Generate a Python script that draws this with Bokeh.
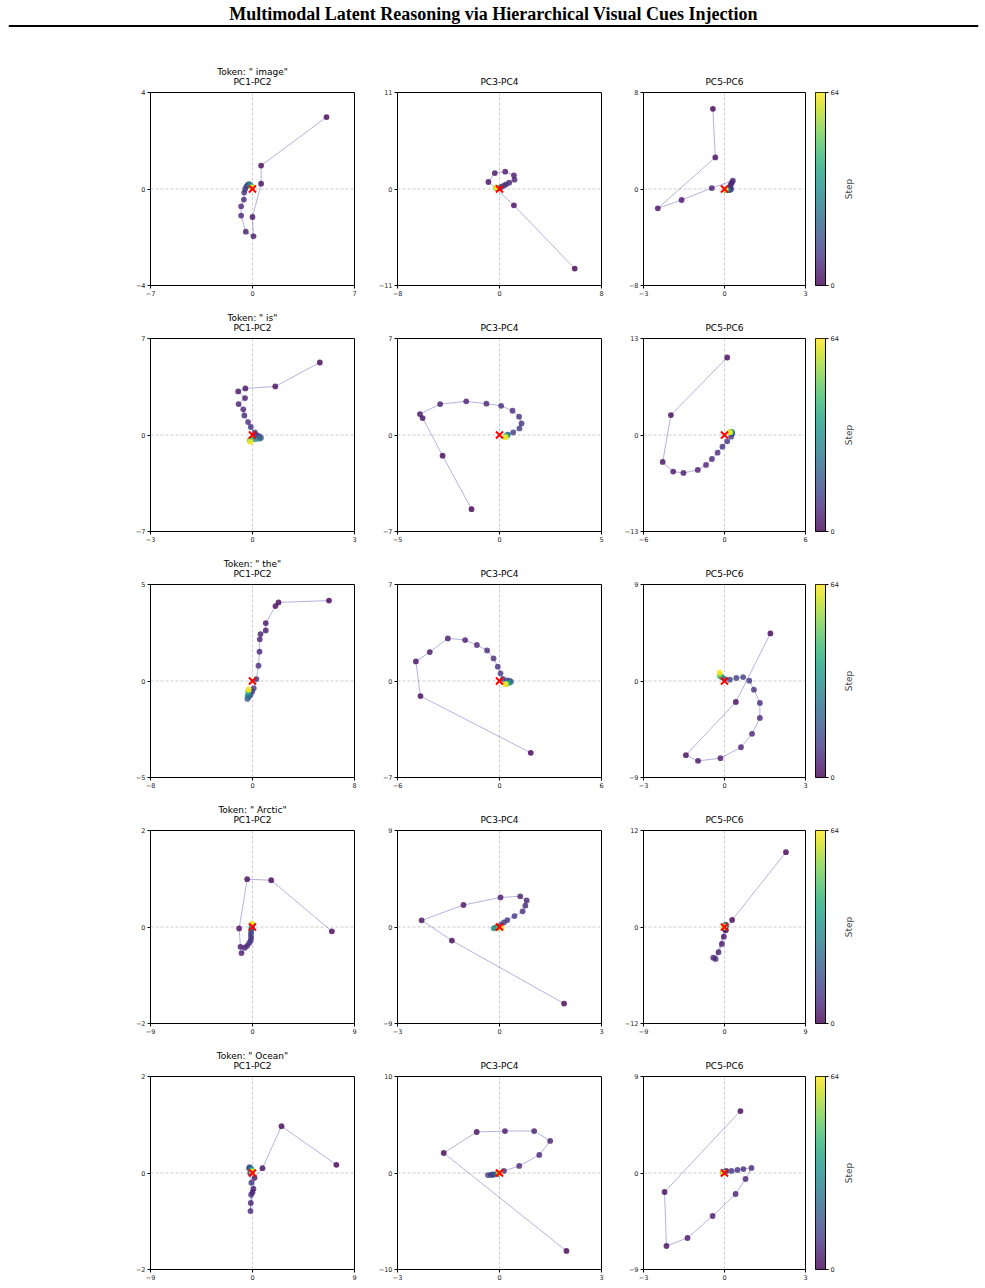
import math
import numpy as np
from bokeh.plotting import figure
from bokeh.layouts import column, row
from bokeh.models import (Range1d, Span, FixedTicker, Title, Label, LinearColorMapper,
                          ColumnDataSource, CustomJSTickFormatter)
from bokeh.palettes import Viridis256
from bokeh.transform import linear_cmap
from bokeh.embed import file_html
from bokeh.resources import INLINE

# ---------------------------------------------------------------- data
main_title = "Multimodal Latent Reasoning via Hierarchical Visual Cues Injection"
tokens = [' image', ' is', ' the', ' Arctic', ' Ocean']
planes = ["PC1-PC2", "PC3-PC4", "PC5-PC6"]
max_step = 64
origin_x = [0.0]
origin_y = [0.0]

# " image"
image_steps = [0, 1, 2, 3, 4, 5, 6, 7, 8, 9, 10, 11, 14, 18, 24, 32, 40, 48, 56, 64]
image_pc12_x = [5.08, 0.59, 0.59, 0.0, 0.07, -0.46, -0.78, -0.78, -0.59, -0.57, -0.5, -0.42, -0.33, -0.25, -0.18, -0.12, -0.08, -0.05, -0.03, -0.02]
image_pc12_y = [2.98, 0.97, 0.22, -1.16, -1.96, -1.77, -1.1, -0.72, -0.44, -0.15, 0.0, 0.1, 0.17, 0.2, 0.18, 0.14, 0.1, 0.08, 0.06, 0.05]
image_pc34_x = [5.9, 1.13, -0.87, -0.37, 0.45, 1.13, 1.18, 0.76, 0.52, 0.34, 0.13, 0.0, -0.1, -0.18, -0.22, -0.25, -0.26, -0.26, -0.26, -0.26]
image_pc34_y = [-9.07, -1.86, 0.8, 1.82, 1.97, 1.56, 1.06, 0.72, 0.53, 0.38, 0.23, 0.12, 0.1, 0.1, 0.12, 0.13, 0.14, 0.15, 0.15, 0.15]
image_pc56_x = [-0.43, -0.34, -2.47, -1.59, -0.47, 0.31, 0.27, 0.23, 0.21, 0.22, 0.24, 0.22, 0.18, 0.14, 0.1, 0.07, 0.05, 0.04, 0.04, 0.03]
image_pc56_y = [6.65, 2.62, -1.6, -0.91, 0.08, 0.69, 0.52, 0.36, 0.22, 0.1, 0.0, -0.05, -0.08, -0.1, -0.1, -0.08, -0.07, -0.06, -0.05, -0.05]
image_limits = [(7, 4), (8, 11), (3, 8)]

# " is"
is_steps = [0, 1, 2, 3, 4, 5, 6, 7, 8, 9, 10, 11, 12, 16, 22, 30, 38, 46, 54, 64]
is_pc12_x = [1.98, 0.67, -0.21, -0.42, -0.22, -0.41, -0.27, -0.24, -0.13, -0.05, 0.07, 0.12, 0.2, 0.25, 0.2, 0.08, -0.05, -0.08, -0.07, -0.06]
is_pc12_y = [5.26, 3.52, 3.38, 3.16, 2.68, 2.24, 1.86, 1.42, 0.94, 0.58, 0.19, 0.0, -0.08, -0.2, -0.27, -0.3, -0.3, -0.38, -0.45, -0.5]
is_pc34_x = [-1.37, -2.79, -3.77, -3.9, -2.91, -1.63, -0.64, 0.08, 0.64, 0.96, 1.08, 0.98, 0.67, 0.4, 0.38, 0.35, 0.33, 0.31, 0.3, 0.29]
is_pc34_y = [-5.38, -1.5, 1.23, 1.52, 2.24, 2.44, 2.27, 2.12, 1.76, 1.33, 0.84, 0.48, 0.19, 0.02, -0.02, -0.05, -0.08, -0.11, -0.14, -0.17]
is_pc56_x = [0.2, -3.97, -4.58, -3.8, -3.04, -1.98, -1.37, -0.93, -0.51, -0.15, 0.2, 0.49, 0.55, 0.57, 0.55, 0.5, 0.47, 0.44, 0.41, 0.39]
is_pc56_y = [10.44, 2.69, -3.63, -4.93, -5.11, -4.71, -4.03, -3.23, -2.38, -1.57, -0.85, -0.22, 0.15, 0.3, 0.38, 0.4, 0.4, 0.38, 0.37, 0.36]
is_limits = [(3, 7), (5, 7), (6, 13)]

# " the"
the_steps = [0, 1, 2, 3, 4, 5, 6, 7, 8, 9, 10, 11, 12, 13, 18, 26, 34, 44, 54, 64]
the_pc12_x = [6.0, 2.04, 1.8, 1.04, 1.04, 0.63, 0.57, 0.55, 0.47, 0.31, 0.1, -0.02, -0.15, -0.28, -0.4, -0.38, -0.34, -0.32, -0.31, -0.31]
the_pc12_y = [4.17, 4.07, 3.88, 3.0, 2.62, 2.43, 2.16, 1.52, 0.79, 0.1, -0.38, -0.55, -0.7, -0.82, -0.93, -0.78, -0.62, -0.52, -0.46, -0.43]
the_pc34_x = [1.84, -4.65, -4.92, -4.1, -3.04, -2.02, -1.33, -0.73, -0.35, -0.1, 0.06, 0.2, 0.45, 0.6, 0.67, 0.6, 0.5, 0.42, 0.38, 0.35]
the_pc34_y = [-5.21, -1.09, 1.42, 2.1, 3.09, 2.97, 2.61, 2.22, 1.64, 1.04, 0.56, 0.15, 0.05, 0.0, -0.05, -0.1, -0.15, -0.2, -0.22, -0.24]
the_pc56_x = [1.7, 0.42, -1.43, -0.98, -0.15, 0.61, 1.02, 1.31, 1.31, 1.09, 0.92, 0.69, 0.44, 0.2, 0.0, -0.1, -0.15, -0.17, -0.18, -0.18]
the_pc56_y = [4.44, -1.96, -6.92, -7.45, -7.2, -6.18, -4.93, -3.44, -2.05, -0.81, 0.03, 0.37, 0.28, 0.12, 0.2, 0.35, 0.45, 0.5, 0.65, 0.81]
the_limits = [(8, 5), (6, 7), (3, 9)]

# " Arctic"
arctic_steps = [0, 1, 2, 3, 4, 5, 6, 7, 8, 9, 10, 11, 12, 16, 22, 30, 38, 46, 54, 64]
arctic_pc12_x = [7.0, 1.65, -0.47, -1.18, -1.06, -0.97, -0.68, -0.47, -0.29, -0.15, -0.12, -0.14, -0.12, -0.1, -0.08, -0.07, -0.06, -0.06, -0.05, -0.05]
arctic_pc12_y = [-0.09, 0.97, 0.99, -0.03, -0.41, -0.54, -0.43, -0.39, -0.33, -0.28, -0.22, -0.16, -0.1, -0.05, -0.02, 0.0, 0.03, 0.05, 0.06, 0.07]
arctic_pc34_x = [1.9, -1.4, -2.29, -1.06, 0.03, 0.61, 0.8, 0.76, 0.68, 0.44, 0.23, 0.13, 0.05, -0.05, -0.12, -0.17, -0.1, -0.02, 0.03, 0.06]
arctic_pc34_y = [-7.14, -1.27, 0.62, 2.05, 2.76, 2.86, 2.48, 1.99, 1.46, 1.02, 0.65, 0.43, 0.22, 0.05, -0.05, -0.12, -0.1, -0.08, -0.06, -0.05]
arctic_pc56_x = [6.83, 0.85, 0.15, -0.07, -0.29, -0.66, -1.25, -0.99, 0.05, 0.1, 0.12, 0.1, 0.08, 0.15, 0.1, 0.05, 0.0, -0.02, -0.04, -0.05]
arctic_pc56_y = [9.31, 0.87, -0.41, -1.2, -2.11, -3.14, -3.81, -3.97, -0.3, -0.1, 0.05, 0.1, 0.12, 0.29, 0.2, 0.1, 0.06, 0.04, 0.03, 0.02]
arctic_limits = [(9, 2), (3, 9), (9, 12)]

# " Ocean"
ocean_steps = [0, 1, 2, 3, 4, 5, 6, 7, 8, 9, 10, 11, 14, 20, 28, 36, 44, 52, 58, 64]
ocean_pc12_x = [7.4, 2.56, 0.88, 0.18, 0.09, 0.0, -0.15, -0.18, -0.12, -0.1, -0.2, -0.3, -0.25, -0.18, -0.12, -0.08, -0.05, -0.03, -0.02, -0.01]
ocean_pc12_y = [0.17, 0.97, 0.1, -0.1, -0.33, -0.4, -0.62, -0.79, -0.45, -0.2, 0.0, 0.1, 0.12, 0.1, 0.08, 0.06, 0.05, 0.04, 0.03, 0.02]
ocean_pc34_x = [1.97, -1.64, -0.67, 0.16, 1.02, 1.49, 1.17, 0.58, 0.13, -0.2, -0.34, -0.25, -0.18, -0.1, -0.05, -0.02, 0.0, 0.0, 0.0, 0.0]
ocean_pc34_y = [-8.08, 2.07, 4.25, 4.35, 4.35, 3.32, 1.87, 0.73, 0.21, -0.15, -0.21, -0.2, -0.18, -0.12, -0.08, -0.05, -0.03, 0.0, 0.02, 0.03]
ocean_pc56_x = [0.59, -2.22, -2.15, -1.37, -0.44, 0.41, 0.78, 1.0, 0.7, 0.48, 0.26, 0.07, 0.02, -0.02, -0.04, -0.05, -0.05, -0.05, -0.04, -0.04]
ocean_pc56_y = [5.78, -1.77, -6.81, -6.06, -4.01, -1.96, -0.56, 0.47, 0.37, 0.28, 0.19, 0.19, 0.12, 0.08, 0.05, 0.03, 0.02, 0.01, 0.0, 0.0]
ocean_limits = [(9, 2), (3, 10), (3, 9)]

token_data = [
    (image_steps, [(image_pc12_x, image_pc12_y), (image_pc34_x, image_pc34_y), (image_pc56_x, image_pc56_y)], image_limits),
    (is_steps, [(is_pc12_x, is_pc12_y), (is_pc34_x, is_pc34_y), (is_pc56_x, is_pc56_y)], is_limits),
    (the_steps, [(the_pc12_x, the_pc12_y), (the_pc34_x, the_pc34_y), (the_pc56_x, the_pc56_y)], the_limits),
    (arctic_steps, [(arctic_pc12_x, arctic_pc12_y), (arctic_pc34_x, arctic_pc34_y), (arctic_pc56_x, arctic_pc56_y)], arctic_limits),
    (ocean_steps, [(ocean_pc12_x, ocean_pc12_y), (ocean_pc34_x, ocean_pc34_y), (ocean_pc56_x, ocean_pc56_y)], ocean_limits),
]

# ---------------------------------------------------------------- style
FONT = "DejaVu Sans"
FRAME_H = 193
BORDER_TOP = 39
BORDER_BOTTOM = 14
# (frame width, left border, right border) for the three columns
COLS = [(204, 150, 13), (204, 30, 12), (162, 30, 10)]
PLANE_TITLE_STANDOFF = 11
TOKEN_TITLE_STANDOFF = -15   # pulls the token line tight onto the plane title

minus_fmt = CustomJSTickFormatter(code="return tick < 0 ? '\u2212' + Math.abs(tick) : String(tick);")


def style_axes(p):
    p.grid.visible = False
    p.outline_line_color = "black"
    p.outline_line_alpha = 1
    p.outline_line_width = 1
    for ax in list(p.xaxis) + list(p.yaxis):
        ax.major_tick_out = 3
        ax.major_tick_in = 0
        ax.minor_tick_line_color = None
        ax.major_tick_line_color = "black"
        ax.axis_line_color = "black"
        ax.major_label_text_font = FONT
        ax.major_label_text_font_size = "6.5px"
        ax.major_label_text_color = "#222222"
        ax.major_label_standoff = 2
        ax.formatter = minus_fmt


def subplot_title(text, standoff):
    t = Title(text=text, align="center", text_font=FONT, text_font_size="9px",
              text_font_style="normal", text_color="black", standoff=0)
    try:
        t.standoff = standoff
    except ValueError:
        t.standoff = 0
    return t


def trajectory_panel(xs, ys, steps, lims, col, titles):
    fw, left, right = COLS[col]
    xl, yl = lims
    p = figure(frame_width=fw, frame_height=FRAME_H,
               x_range=Range1d(-xl, xl), y_range=Range1d(-yl, yl),
               output_backend="svg", toolbar_location=None,
               min_border_left=left, min_border_right=right,
               min_border_top=BORDER_TOP, min_border_bottom=BORDER_BOTTOM)
    style_axes(p)
    p.xaxis.ticker = FixedTicker(ticks=[-xl, 0, xl])
    p.yaxis.ticker = FixedTicker(ticks=[-yl, 0, yl])

    for dim in ("width", "height"):
        p.add_layout(Span(location=0, dimension=dim, line_color="gray", line_alpha=0.5,
                          line_dash="3 2", line_width=0.8, level="underlay"))

    src = ColumnDataSource(dict(x=xs, y=ys, step=steps))
    p.line("x", "y", source=src, line_color="#4040b0", line_alpha=0.4, line_width=1)
    p.scatter("x", "y", source=src, size=5.8, line_color=None, fill_alpha=0.8,
              fill_color=linear_cmap("step", Viridis256, 0, max_step))
    p.scatter(x=origin_x, y=origin_y, marker="x", size=10, line_color="red", line_width=2)

    # first title sits next to the frame, the token name goes above it
    for i, t in enumerate(titles):
        p.add_layout(subplot_title(t, PLANE_TITLE_STANDOFF if i == 0 else TOKEN_TITLE_STANDOFF), "above")
    return p


def step_colorbar():
    cb = figure(frame_width=10, frame_height=FRAME_H,
                x_range=Range1d(0, 1), y_range=Range1d(0, max_step),
                x_axis_location=None, y_axis_location="right",
                output_backend="svg", toolbar_location=None,
                min_border_left=0, min_border_right=12,
                min_border_top=BORDER_TOP, min_border_bottom=BORDER_BOTTOM)
    style_axes(cb)
    cb.yaxis.ticker = FixedTicker(ticks=[0, max_step])
    gradient = np.linspace(0, max_step, 256).reshape(-1, 1)
    cb.image(image=[gradient], x=0, y=0, dw=1, dh=max_step,
             color_mapper=LinearColorMapper(palette=Viridis256, low=0, high=max_step),
             global_alpha=0.8)
    return cb


def step_caption():
    # narrow blank plot whose left-hand title carries the colorbar caption
    cap = figure(frame_width=2, frame_height=FRAME_H, title="Step", title_location="left",
                 x_axis_location=None, y_axis_location=None, outline_line_color=None,
                 output_backend="svg", toolbar_location=None,
                 min_border_left=0, min_border_right=0,
                 min_border_top=BORDER_TOP, min_border_bottom=BORDER_BOTTOM)
    cap.grid.visible = False
    cap.title.align = "center"
    cap.title.text_font = FONT
    cap.title.text_font_size = "9px"
    cap.title.text_font_style = "normal"
    cap.title.standoff = 0
    return cap


# ---------------------------------------------------------------- header
header = figure(width=985, height=53, x_range=Range1d(8, 978), y_range=Range1d(53, 0),
                x_axis_location=None, y_axis_location=None, outline_line_color=None,
                output_backend="svg", toolbar_location=None,
                min_border_left=8, min_border_right=7, min_border_top=0, min_border_bottom=0)
header.grid.visible = False
header.add_layout(Label(x=493, y=13, text=main_title, text_align="center", text_baseline="middle",
                        text_font="Liberation Serif", text_font_style="bold", text_font_size="18px",
                        text_color="black"))
header.add_layout(Span(location=25.5, dimension="width", line_color="black", line_width=2))

rows = [header]
for token, (steps, coords, limits) in zip(tokens, token_data):
    figs = []
    for col, ((xs, ys), lims) in enumerate(zip(coords, limits)):
        titles = [planes[col]]
        if col == 0:
            titles.append(f'Token: "{token}"')
        figs.append(trajectory_panel(xs, ys, steps, lims, col, titles))
    figs.append(step_colorbar())
    figs.append(step_caption())
    rows.append(row(*figs, spacing=0))

layout = column(*rows, spacing=0)

with open("out.html", "w") as f:
    f.write(file_html(layout, INLINE))
